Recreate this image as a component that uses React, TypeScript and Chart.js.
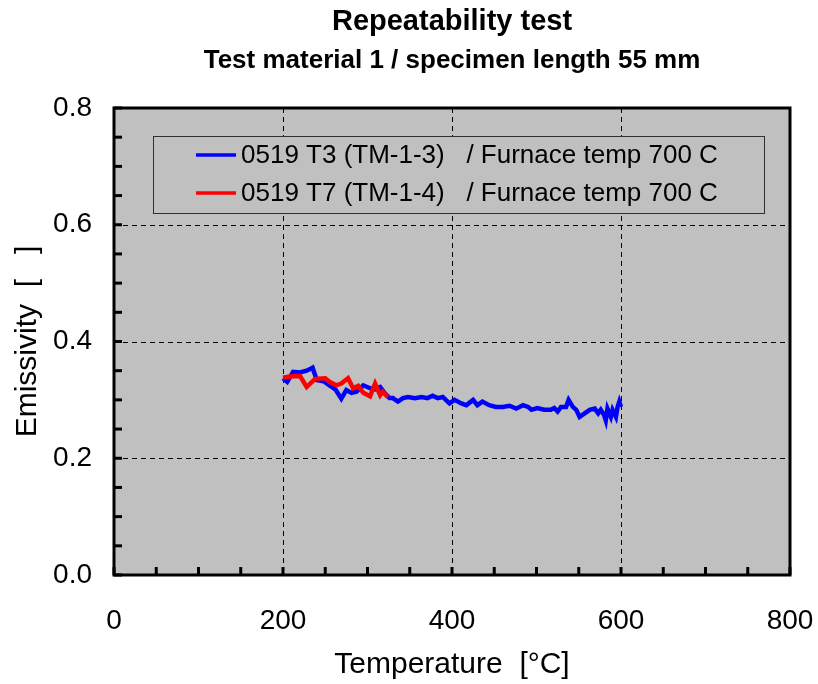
import React, { useEffect, useRef } from "react";
import { Chart, registerables } from "chart.js";

Chart.register(...registerables);

const FONT = "'Liberation Sans', Arial, Helvetica, sans-serif";

const titleText = "Repeatability test";
const subtitleText = "Test material 1 / specimen length 55 mm";
const xTitle = "Temperature  [°C]";
const yTitle = "Emissivity  [   ]";

const xTicks = [0, 200, 400, 600, 800];
const yTicks = [0, 0.2, 0.4, 0.6, 0.8];
const xMinorStep = 50;
const yMinorStep = 0.05;

const seriesLabels = [
  "0519 T3 (TM-1-3)   / Furnace temp 700 C",
  "0519 T7 (TM-1-4)   / Furnace temp 700 C",
];
const seriesColors = ["#0000FF", "#FF0000"];

const blueTemp = [
  200, 205, 212, 220, 228, 235, 240, 248, 255, 262, 269, 275, 281, 287, 295, 303,
  309, 315, 320, 326, 330, 336, 342, 348, 356, 364, 371, 377, 383, 389, 397, 403,
  411, 417, 425, 430, 436, 444, 452, 460, 468, 476, 484, 490, 494, 501, 509, 517,
  521, 525, 529, 535, 538, 543, 547, 551, 557, 563, 569, 573, 576, 580, 582, 584,
  588, 590, 594, 596, 598, 600,
];
const blueEmis = [
  0.337, 0.331, 0.348, 0.347, 0.35, 0.355, 0.334, 0.332, 0.325, 0.318, 0.302, 0.317,
  0.312, 0.314, 0.325, 0.32, 0.318, 0.322, 0.312, 0.303, 0.303, 0.297, 0.303, 0.305,
  0.303, 0.305, 0.303, 0.307, 0.303, 0.305, 0.294, 0.3, 0.294, 0.291, 0.3, 0.291,
  0.297, 0.291, 0.288, 0.288, 0.29, 0.285, 0.291, 0.288, 0.283, 0.286, 0.283, 0.283,
  0.286, 0.28, 0.288, 0.288, 0.3, 0.288, 0.283, 0.271, 0.277, 0.283, 0.285, 0.277,
  0.283, 0.274, 0.265, 0.285, 0.271, 0.283, 0.271, 0.288, 0.297, 0.288,
];

const redTemp = [200, 208, 220, 228, 238, 250, 255, 263, 269, 277, 283, 289, 295, 303, 309, 315, 318, 324];
const redEmis = [
  0.338, 0.34, 0.341, 0.322, 0.336, 0.337, 0.331, 0.325, 0.328, 0.337, 0.32, 0.324,
  0.312, 0.306, 0.328, 0.308, 0.314, 0.305,
];

const toPoints = (xs: number[], ys: number[]) => xs.map((x, i) => ({ x, y: ys[i] }));

const decorPlugin = {
  id: "decor",
  beforeDatasetsDraw(chart: any) {
    const { ctx, chartArea: a, scales } = chart;
    const xs = scales.x;
    const ys = scales.y;
    ctx.save();
    ctx.fillStyle = "#C0C0C0";
    ctx.fillRect(a.left, a.top, a.right - a.left, a.bottom - a.top);
    ctx.strokeStyle = "#000000";
    ctx.lineWidth = 1;
    ctx.setLineDash([5, 4]);
    xTicks.slice(1, -1).forEach((v) => {
      const px = Math.round(xs.getPixelForValue(v)) + 0.5;
      ctx.beginPath();
      ctx.moveTo(px, a.top);
      ctx.lineTo(px, a.bottom);
      ctx.stroke();
    });
    yTicks.slice(1, -1).forEach((v) => {
      const py = Math.round(ys.getPixelForValue(v)) + 0.5;
      ctx.beginPath();
      ctx.moveTo(a.left, py);
      ctx.lineTo(a.right, py);
      ctx.stroke();
    });
    ctx.restore();
  },
  afterDatasetsDraw(chart: any) {
    const { ctx, chartArea: a, scales } = chart;
    const xs = scales.x;
    const ys = scales.y;
    ctx.save();
    ctx.strokeStyle = "#000";
    ctx.lineWidth = 3;
    ctx.setLineDash([]);
    for (let v = xTicks[0]; v <= xTicks[xTicks.length - 1] + 1e-9; v += xMinorStep) {
      const px = xs.getPixelForValue(v);
      ctx.beginPath();
      ctx.moveTo(px, a.bottom);
      ctx.lineTo(px, a.bottom - 8);
      ctx.stroke();
    }
    for (let i = 0; i * yMinorStep <= yTicks[yTicks.length - 1] + 1e-9; i++) {
      const py = ys.getPixelForValue(i * yMinorStep);
      ctx.beginPath();
      ctx.moveTo(a.left, py);
      ctx.lineTo(a.left + 8, py);
      ctx.stroke();
    }
    ctx.lineWidth = 3;
    ctx.strokeRect(a.left, a.top, a.right - a.left, a.bottom - a.top);

    // legend
    const lx = a.left + 39;
    const ly = a.top + 28;
    const lw = 611;
    const lh = 77;
    ctx.fillStyle = "#C0C0C0";
    ctx.fillRect(lx, ly, lw, lh);
    ctx.lineWidth = 1;
    ctx.strokeStyle = "#303030";
    ctx.strokeRect(lx + 0.5, ly + 0.5, lw, lh);
    ctx.font = `26px ${FONT}`;
    ctx.textBaseline = "middle";
    ctx.textAlign = "left";
    chart.data.datasets.forEach((ds: any, i: number) => {
      const cy = ly + 19 + i * 38;
      ctx.strokeStyle = ds.borderColor;
      ctx.lineWidth = 3.5;
      ctx.beginPath();
      ctx.moveTo(lx + 43, cy);
      ctx.lineTo(lx + 83, cy);
      ctx.stroke();
      ctx.fillStyle = "#000";
      ctx.fillText(ds.label, lx + 88, cy + 1);
    });

    // titles
    const cx = (a.left + a.right) / 2;
    ctx.fillStyle = "#000";
    ctx.textAlign = "center";
    ctx.font = `bold 29px ${FONT}`;
    ctx.fillText(titleText, cx, 22);
    ctx.font = `bold 26px ${FONT}`;
    ctx.fillText(subtitleText, cx, 61);
    ctx.font = `30px ${FONT}`;
    ctx.fillText(xTitle, cx, 665);
    ctx.save();
    ctx.translate(28, (a.top + a.bottom) / 2);
    ctx.rotate(-Math.PI / 2);
    ctx.fillText(yTitle, 0, 0);
    ctx.restore();
    ctx.restore();
  },
};

export default function App() {
  const ref = useRef<HTMLCanvasElement | null>(null);
  useEffect(() => {
    if (!ref.current) return;
    const chart = new Chart(ref.current, {
      type: "line",
      data: {
        datasets: [
          {
            label: seriesLabels[0],
            data: toPoints(blueTemp, blueEmis),
            borderColor: seriesColors[0],
            backgroundColor: seriesColors[0],
            borderWidth: 4.5,
            pointRadius: 0,
            tension: 0,
            order: 1,
          },
          {
            label: seriesLabels[1],
            data: toPoints(redTemp, redEmis),
            borderColor: seriesColors[1],
            backgroundColor: seriesColors[1],
            borderWidth: 4.5,
            pointRadius: 0,
            tension: 0,
            order: 0,
          },
        ],
      },
      options: {
        responsive: false,
        animation: false,
        devicePixelRatio: 1,
        layout: { padding: { top: 108, right: 28, left: 0, bottom: 0 } },
        plugins: { legend: { display: false }, tooltip: { enabled: false }, title: { display: false } },
        scales: {
          x: {
            type: "linear",
            min: xTicks[0],
            max: xTicks[xTicks.length - 1],
            afterFit: (s: any) => {
              s.height = 109;
              s.paddingLeft = 0;
              s.paddingRight = 0;
            },
            afterBuildTicks: (s: any) => {
              s.ticks = xTicks.map((v) => ({ value: v }));
            },
            ticks: {
              font: { family: FONT, size: 28 },
              color: "#000",
              padding: 29,
              maxRotation: 0,
              callback: (v: any) => String(v),
            },
            grid: { display: false, drawTicks: false },
            border: { display: false },
          },
          y: {
            type: "linear",
            min: yTicks[0],
            max: yTicks[yTicks.length - 1],
            afterFit: (s: any) => {
              s.width = 114;
              s.paddingTop = 0;
              s.paddingBottom = 0;
            },
            afterBuildTicks: (s: any) => {
              s.ticks = yTicks.map((v) => ({ value: v }));
            },
            ticks: {
              font: { family: FONT, size: 28 },
              color: "#000",
              padding: 22,
              callback: (v: any) => Number(v).toFixed(1),
            },
            grid: { display: false, drawTicks: false },
            border: { display: false },
          },
        },
      },
      plugins: [decorPlugin],
    } as any);
    return () => chart.destroy();
  }, []);
  return (
    <div style={{ position: "absolute", left: 0, top: 0, width: 818, height: 684, background: "#fff" }}>
      <canvas ref={ref} width={818} height={684} style={{ width: 818, height: 684, display: "block" }} />
    </div>
  );
}
